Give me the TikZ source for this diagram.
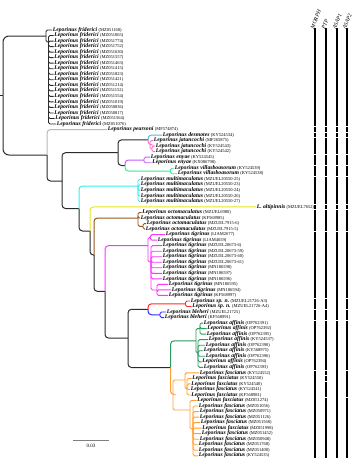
\documentclass[tikz,border=0pt]{standalone}
\usepackage{fontspec}
\setmainfont{Liberation Serif}
\usepackage{tikz}
\usetikzlibrary{positioning}
\definecolor{treeb}{HTML}{2B2B2B}
\definecolor{grayb}{HTML}{B9B9B9}
\definecolor{skyb}{HTML}{4DB8F5}
\definecolor{pinkb}{HTML}{FF6EC7}
\definecolor{violetb}{HTML}{C35CFF}
\definecolor{mintb}{HTML}{2EF08C}
\definecolor{cyanb}{HTML}{2EF0F0}
\definecolor{yellowb}{HTML}{E6E61A}
\definecolor{brownb}{HTML}{94561E}
\definecolor{magb}{HTML}{FF33FF}
\definecolor{redb}{HTML}{FF2A2A}
\definecolor{blueb}{HTML}{2A2AFF}
\definecolor{greenb}{HTML}{2A9A5E}
\definecolor{orangeb}{HTML}{FFA033}
\tikzstyle{br} = [line width=1pt, treeb, rounded corners=3.5pt]
\tikzstyle{tip} = [line width=0.9pt, treeb, rounded corners=1.5pt]
\tikzstyle{leaf} = [anchor=west, inner xsep=0.6pt, inner ysep=0pt, text height=3.3pt, text depth=1pt]
\tikzstyle{bar} = [line width=2pt, black]
\tikzstyle{hdr} = [rotate=68, anchor=south west, inner sep=0pt, text height=3.6pt, text depth=0pt, font=\fontsize{5.6}{6}\selectfont\itshape]
\newcommand{\taxon}[2]{{\fontsize{5.7}{6}\selectfont\bfseries\itshape #1}\hspace{1.3pt}{\fontsize{4.5}{5}\selectfont(#2)}}

\begin{document}
\begin{tikzpicture}[x=1pt,y=-1pt]
\useasboundingbox (0,0) rectangle (360,461);

% taxa
\foreach \lx/\nm/\acc [count=\i] in {
  52/Leporinus friderici/MZ051168, 53.5/Leporinus friderici/MZ051065,
  53.5/Leporinus friderici/MZ051774, 53.5/Leporinus friderici/MZ051752,
  53.5/Leporinus friderici/MZ051630, 53.5/Leporinus friderici/MZ051557,
  53.5/Leporinus friderici/MZ051463, 53.5/Leporinus friderici/MZ051415,
  53.5/Leporinus friderici/MZ051823, 53.5/Leporinus friderici/MZ051421,
  53.5/Leporinus friderici/MZ051214, 53.5/Leporinus friderici/MZ051152,
  53.5/Leporinus friderici/MZ051554, 53.5/Leporinus friderici/MZ051019,
  53.5/Leporinus friderici/MZ050836, 53.5/Leporinus friderici/MZ050817,
  54.5/Leporinus friderici/MZ051564, 56/Leporinus friderici/MZ051076,
  107/Leporinus pearsoni/MF574874,
  162/Leporinus desmotes/KY524534,
  153/Leporinus jatuncochi/MF265875, 155/Leporinus jatuncochi/KY524543,
  155/Leporinus jatuncochi/KY524542,
  150/Leporinus enyae/KY524545, 151.5/Leporinus enyae/KX086798,
  174/Leporinus villasboasorum/KY524539, 177/Leporinus villasboasorum/KY524538,
  140/Leporinus multimaculatus/MZUEL20550-25, 140/Leporinus multimaculatus/MZUEL20550-23,
  140/Leporinus multimaculatus/MZUEL20550-24, 140/Leporinus multimaculatus/MZUEL20550-26,
  140/Leporinus multimaculatus/MZUEL20550-27,
  256/L. altipinnis/MZUEL7652,
  141.5/Leporinus octomaculatus/MZUEL6980, 140/Leporinus octomaculatus/KF568985,
  146/Leporinus octomaculatus/MZUEL7915-6, 145/Leporinus octomaculatus/MZUEL7915-5,
  165/Leporinus tigrinus/LIAM2677, 157/Leporinus tigrinus/LIAM4659,
  162/Leporinus tigrinus/MZUEL20673-6, 162/Leporinus tigrinus/MZUEL20673-59,
  162/Leporinus tigrinus/MZUEL20673-60, 162/Leporinus tigrinus/MZUEL20673-61,
  162/Leporinus tigrinus/MN186598, 162/Leporinus tigrinus/MN186597,
  162/Leporinus tigrinus/MN186596, 168/Leporinus tigrinus/MN186595,
  171/Leporinus tigrinus/MN186594, 168/Leporinus tigrinus/KF568997,
  190/Leporinus sp. n./MZUEL21726-A3, 191.5/Leporinus sp. n./MZUEL21726-A4,
  166/Leporinus bleheri/MZUEL21725, 164/Leporinus bleheri/KF568991,
  203/Leporinus affinis/OP762391, 206.5/Leporinus affinis/OP762392,
  206/Leporinus affinis/OP762395, 208/Leporinus affinis/KY524537,
  205/Leporinus affinis/OP762390, 203/Leporinus affinis/KY568975,
  205/Leporinus affinis/OP762396, 201.5/Leporinus affinis/OP762394,
  203/Leporinus affinis/OP762393,
  199/Leporinus fasciatus/KY524552, 191.5/Leporinus fasciatus/KY524550,
  190.5/Leporinus fasciatus/KY524540, 190/Leporinus fasciatus/KY524541,
  190.5/Leporinus fasciatus/KF568981, 196.5/Leporinus fasciatus/MZ051274,
  198/Leporinus fasciatus/MZ051056, 199/Leporinus fasciatus/MZ050971,
  199/Leporinus fasciatus/MZ051126, 200/Leporinus fasciatus/MZ051568,
  201.5/Leporinus fasciatus/MZ051998, 201/Leporinus fasciatus/MZ051452,
  199/Leporinus fasciatus/MZ050948, 198/Leporinus fasciatus/MZ051768,
  198/Leporinus fasciatus/MZ051400, 198/Leporinus fasciatus/KY524535}
  \node[leaf] (l\i) at (\lx,{24.47+5.53*\i}) {\taxon{\nm}{\acc}};

% internal nodes
\coordinate (stub) at (0,95.5);
\coordinate (root) at (3,95.5);
\coordinate (f0) at (46,36);
\coordinate (f1) at (48.5,42);
\coordinate (n2) at (47,155);
\coordinate (n3) at (62,181);
\coordinate (n4) at (118,152.7);
\coordinate (n6) at (148,139.9);
\coordinate (nj) at (150,144.8);
\coordinate (nj2) at (152,148.9);
\coordinate (n5) at (125,165.5);
\coordinate (ne) at (144,160);
\coordinate (nv) at (170.5,171);
\coordinate (n7) at (79,208.5);
\coordinate (nm) at (138,186);
\coordinate (n8) at (90,231);
\coordinate (n9) at (94,255);
\coordinate (no) at (138,218);
\coordinate (no2) at (143,226.3);
\coordinate (n10) at (105,291.4);
\coordinate (nt) at (148,245.7);
\coordinate (nta) at (150.5,237.4);
\coordinate (ntb) at (151,262);
\coordinate (ntd) at (157,290);
\coordinate (n11) at (128,338);
\coordinate (n12) at (148,309.3);
\coordinate (nr) at (185.5,303.8);
\coordinate (nb) at (160,314.8);
\coordinate (n13) at (170.5,367.5);
\coordinate (na) at (196,340.8);
\coordinate (na1) at (200,328.6);
\coordinate (na2) at (198,353);
\coordinate (nf) at (173,394.5);
\coordinate (nk) at (185,380);
\coordinate (nk2) at (187,389);
\coordinate (nz) at (190,410);
\coordinate (nz2) at (193,429);

% backbone
\draw[br] (stub) -- (root);
\draw[br, rounded corners=6pt] (root) |- (f0);
\draw[br, rounded corners=6pt] (root) |- (n2);
\foreach \a/\b in {n2/n3,n3/n4,n3/n7,n4/n6,n4/n5,n7/n8,n8/n9,n9/n10,n10/n11,n11/n12,n11/n13}
  \draw[br] (\a) |- (\b);

% coloured clades
\foreach \a/\b/\c in {n2/l19/grayb, n6/l20/skyb, n6/nj/pinkb, n5/ne/violetb, n5/nv/mintb,
    n7/nm/cyanb, n8/l33/yellowb, n9/no/brownb, n10/nt/magb, n12/nr/redb, n12/nb/blueb,
    n13/na/greenb, n13/nf/orangeb}
  \draw[br,\c] (\a) |- (\b);

% tips
\draw[tip] (f0) |- (l1);
\draw[tip] (f0) |- (f1);
\foreach \i in {2,...,18} \draw[tip] (f1) |- (l\i);
\foreach \a/\b/\c in {nj/l21/pinkb, nj/nj2/pinkb, nj2/l22/pinkb, nj2/l23/pinkb,
    ne/l24/violetb, ne/l25/violetb, nv/l26/mintb, nv/l27/mintb,
    no/l34/brownb, no/l35/brownb, no/no2/brownb, no2/l36/brownb, no2/l37/brownb,
    nt/nta/magb, nt/ntb/magb, nta/l38/magb, nta/l39/magb, ntb/ntd/magb,
    nr/l50/redb, nr/l51/redb, nb/l52/blueb, nb/l53/blueb,
    na/na1/greenb, na/na2/greenb, nf/nk/orangeb, nf/nz/orangeb,
    nk/l63/orangeb, nk/nk2/orangeb, nz/l68/orangeb, nz/nz2/orangeb}
  \draw[tip,\c] (\a) |- (\b);
\foreach \i in {28,...,32} \draw[tip,cyanb] (nm) |- (l\i);
\foreach \i in {40,...,46} \draw[tip,magb] (ntb) |- (l\i);
\foreach \i in {47,48,49} \draw[tip,magb] (ntd) |- (l\i);
\foreach \i in {54,55,56} \draw[tip,greenb] (na1) |- (l\i);
\foreach \i in {57,...,62} \draw[tip,greenb] (na2) |- (l\i);
\foreach \i in {64,...,67} \draw[tip,orangeb] (nk2) |- (l\i);
\foreach \i in {69,...,78} \draw[tip,orangeb] (nz2) |- (l\i);

% delimitation bars
\foreach \a/\b in {1/18,19/19,20/20,21/23,24/25,26/27,28/32,33/33,34/37,38/49,50/51,52/53,54/62,63/78}
  \draw[bar] (315,{24.47+5.53*\a-2.2}) -- (315,{24.47+5.53*\b+2.4});
\foreach \a/\b in {1/18,19/19,20/20,21/23,24/25,26/27,28/32,33/33,34/37,38/49,50/51,52/53,54/62,63/63,64/64,65/67,68/78}
  \draw[bar] (326,{24.47+5.53*\a-2.2}) -- (326,{24.47+5.53*\b+2.4});
\foreach \a/\b in {1/18,19/19,20/20,21/23,24/25,26/27,28/32,33/33,34/37,38/53,54/78}
  \draw[bar] (337,{24.47+5.53*\a-2.2}) -- (337,{24.47+5.53*\b+2.4});
\foreach \a/\b in {1/18,19/19,20/20,21/23,24/25,26/27,28/32,33/33,34/37,38/49,50/51,52/53,54/62,63/67,68/78}
  \draw[bar] (347,{24.47+5.53*\a-2.2}) -- (347,{24.47+5.53*\b+2.4});
\node[hdr] (hmorph) at (314,29.5) {MORPH};
\node[hdr] (hptp) at (325,29.5) {PTP};
\node[hdr] (hasapa) at (336,29.5) {ASAP1};
\node[hdr] (hasapb) at (346,29.5) {ASAP2};

% scale
\coordinate (sb0) at (73,440);
\coordinate (sb1) at (109,440);
\draw[gray, line width=0.9pt] (sb0) -- (sb1);
\node[inner sep=0, font=\fontsize{5}{5}\selectfont] (sbl) at (91,446) {0.03};
\end{tikzpicture}
\end{document}
